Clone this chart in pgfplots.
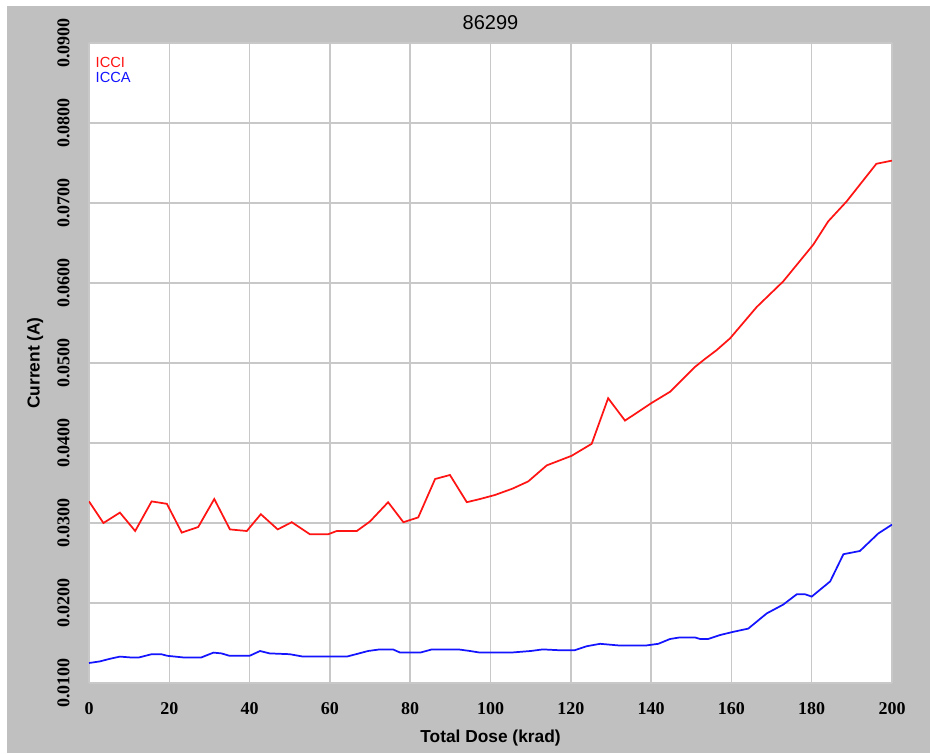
\documentclass[border=0pt]{standalone}
\usepackage{pgfplots}
\pgfplotsset{compat=1.18}
\usepackage{fontspec}
\setmainfont{Liberation Sans}
\newfontfamily\tickfont{Liberation Serif}
\definecolor{panel}{RGB}{192,192,192}
\definecolor{gridc}{RGB}{200,200,200}
\definecolor{iccired}{RGB}{255,20,20}
\definecolor{iccablue}{RGB}{20,20,255}
\begin{document}
\begin{tikzpicture}
\useasboundingbox (0,0) rectangle (697.5pt,564.75pt);
\fill[white] (0,0) rectangle (697.5pt,564.75pt);
\fill[panel] (5.25pt,0) rectangle (697.5pt,560.25pt);
\begin{axis}[
  at={(66.75pt,52.5pt)}, anchor=south west,
  scale only axis, width=602.25pt, height=480pt,
  xmin=0, xmax=200, ymin=0.01, ymax=0.09,
  scaled y ticks=false, scaled x ticks=false,
  axis background/.style={fill=white},
  axis line style={draw=none},
  major tick length=0pt,
  grid=major,
  major grid style={gridc, line width=1.1pt},
  xtick={0,20,...,200},
  ytick={0.01,0.02,0.03,0.04,0.05,0.06,0.07,0.08,0.09},
  yticklabels={0.0100,0.0200,0.0300,0.0400,0.0500,0.0600,0.0700,0.0800,0.0900},
  /pgf/number format/assume math mode=true,
  xticklabel style={font=\tickfont\bfseries\fontsize{13.5}{15}\selectfont, yshift=-11pt},
  yticklabel style={font=\tickfont\bfseries\fontsize{13.5}{15}\selectfont, xshift=-11pt, rotate=90, anchor=south},
  title={86299},
  title style={font=\fontsize{15}{17}\selectfont, at={(axis description cs:0.5,1.019)}, anchor=center},
  xlabel={Total Dose (krad)},
  xlabel style={font=\bfseries\fontsize{13}{15}\selectfont, at={(axis description cs:0.5,-0.0859)}, anchor=center},
  ylabel={Current (A)},
  ylabel style={font=\bfseries\fontsize{13}{15}\selectfont, at={(axis description cs:-0.0672,0.5)}, anchor=center},
  legend style={draw=none, fill=none, at={(axis description cs:0.003,0.985)}, anchor=north west,
    font=\fontsize{11}{12}\selectfont, row sep=-2pt, inner sep=1pt},
  legend cell align=left,
  legend image code/.code={},
]
\addplot[iccired, line width=1.3pt] coordinates {
(0,0.0327) (3.6,0.0300) (7.7,0.0313) (11.5,0.0290) (15.6,0.0327) (19.4,0.0324)
(23.1,0.0288) (27.2,0.0295) (31.2,0.0330) (35.1,0.0292) (39.3,0.0290) (42.8,0.0311)
(47.0,0.0292) (50.5,0.0301) (55.0,0.0286) (59.6,0.0286) (61.7,0.0290) (66.7,0.0290)
(70.0,0.0302) (74.5,0.0326) (78.3,0.0301) (82.0,0.0307) (86.2,0.0355) (89.9,0.0360)
(94.1,0.0326) (97.4,0.0330) (101.1,0.0335) (105.5,0.0343) (109.4,0.0352) (114.0,0.0372)
(120.2,0.0384) (125.2,0.0399) (129.3,0.0456) (133.5,0.0428) (140.1,0.0450) (144.7,0.0464)
(150.9,0.0495) (153.4,0.0505) (156.3,0.0516) (159.7,0.0531) (166.3,0.0570) (172.9,0.0602)
(180.4,0.0648) (184.1,0.0677) (188.7,0.0702) (196.1,0.0749) (200,0.0753)
};
\addlegendentry{\textcolor{iccired}{ICCI}}
\addplot[iccablue, line width=1.3pt] coordinates {
(0,0.0125) (2.7,0.0127) (5,0.0130) (7.7,0.0133) (10.2,0.0132) (12.5,0.0132) (15.6,0.0136)
(18,0.0136) (19.5,0.0134) (23.4,0.0132) (28,0.0132) (31,0.0138) (33,0.0137) (35,0.0134)
(40,0.0134) (42.6,0.0140) (45,0.0137) (50,0.0136) (53.3,0.0133) (64.2,0.0133) (66.5,0.0136)
(69.5,0.0140) (72.4,0.0142) (75.7,0.0142) (77.5,0.0138) (82.5,0.0138) (85.4,0.0142)
(92,0.0142) (94.9,0.0140) (97.4,0.0138) (105,0.0138) (110,0.0140) (113,0.0142) (117,0.0141)
(121,0.0141) (124,0.0146) (127.3,0.0149) (131.8,0.0147) (138.9,0.0147) (141.8,0.0149)
(144.7,0.0155) (147.2,0.0157) (150.9,0.0157) (152.2,0.0155) (154.2,0.0155) (157.2,0.0160)
(160.5,0.0164) (164.2,0.0168) (168.8,0.0187) (172.9,0.0198) (176.3,0.0211) (178.3,0.0211)
(180.0,0.0208) (184.6,0.0227) (187.9,0.0261) (192.0,0.0265) (196.6,0.0287) (200,0.0298)
};
\addlegendentry{\textcolor{iccablue}{ICCA}}
\end{axis}
\end{tikzpicture}
\end{document}
